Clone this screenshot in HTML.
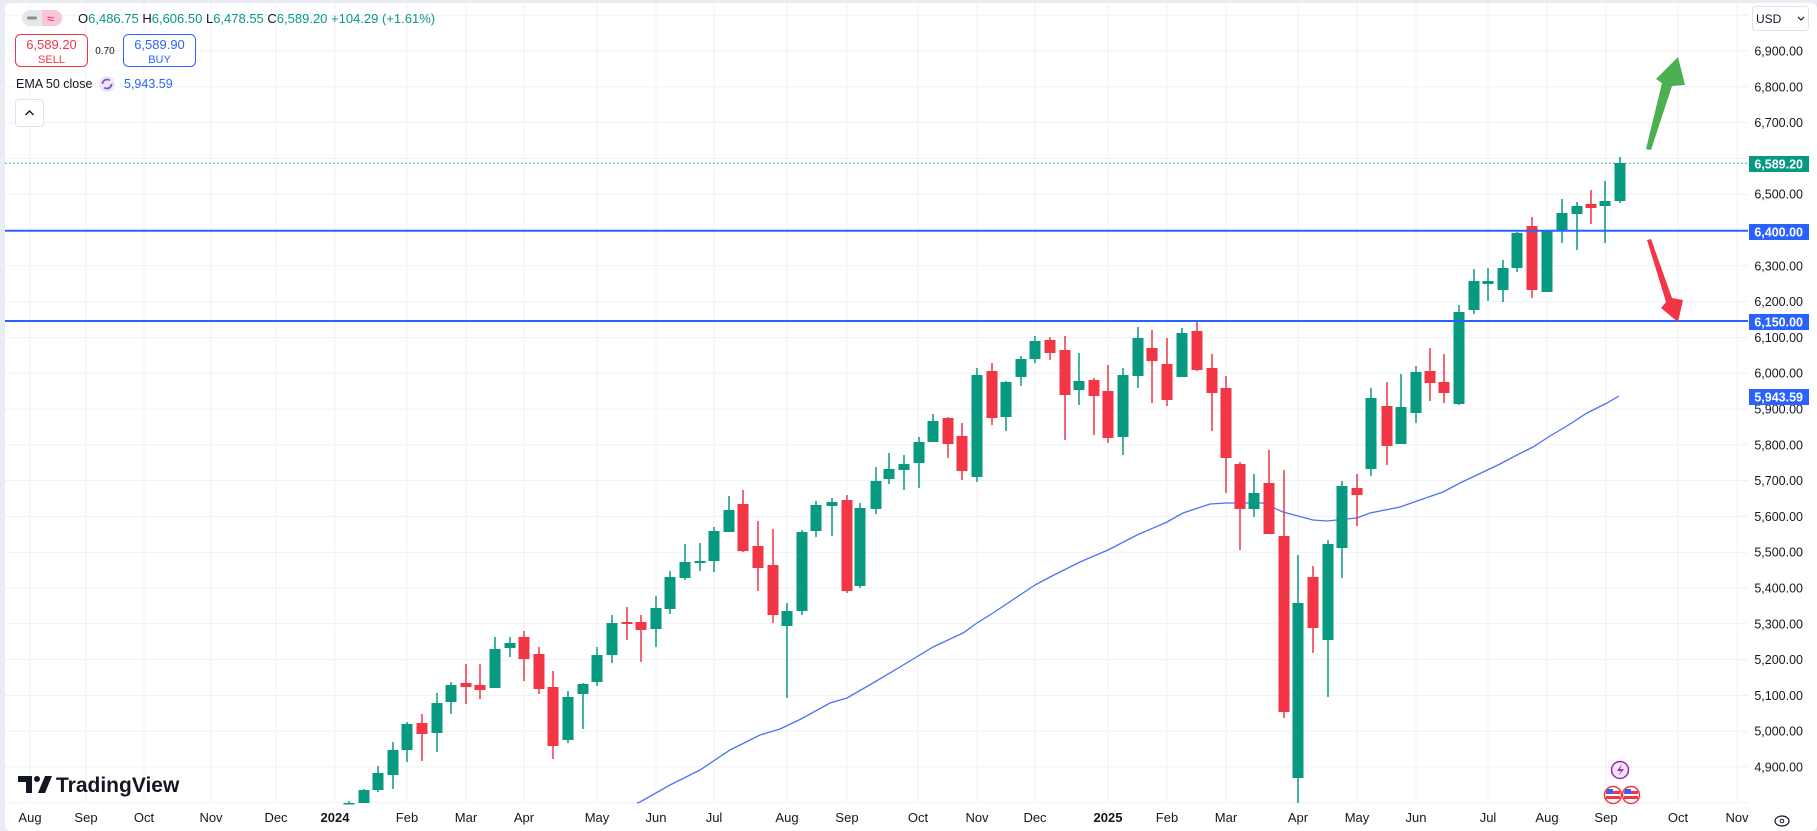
<!DOCTYPE html>
<html><head><meta charset="utf-8"><style>
html,body{margin:0;padding:0;background:#fff;}
body{width:1817px;height:831px;overflow:hidden;font-family:"Liberation Sans",sans-serif;}
svg{display:block;}
</style></head><body>
<svg id="c" width="1817" height="831" viewBox="0 0 1817 831" xmlns="http://www.w3.org/2000/svg" font-family="Liberation Sans, sans-serif">
<rect x="0" y="0" width="1817" height="831" fill="#e9ecf2"/>
<rect x="5" y="3" width="1812" height="828" rx="6" fill="#fff"/>
<g id="grid" stroke="#f0f1f4" stroke-width="1"></g>
<line x1="5" y1="163.3" x2="1748" y2="163.3" stroke="#089981" stroke-width="1" stroke-dasharray="1.5,2.5"/>
<polyline fill="none" stroke="#4d72f5" stroke-width="1.3" points="637,803 640,802 670,785 700,770 730,750 760,735 780,729 801,719 830,703 847,698 873,683 900,667 933,647 963,633 977,623 993,613 1020,595 1035,585 1050,577 1080,562 1108,550 1137,535 1167,522 1183,513 1210,504 1227,503 1263,503 1283,512 1313,520 1327,521 1357,518 1370,513 1400,507 1417,501 1443,492 1460,483 1500,464 1517,455 1533,447 1550,436 1567,426 1587,413 1607,403 1619,396"/>
<g id="candles"></g>
<line x1="5" y1="230.7" x2="1748" y2="230.7" stroke="#2962ff" stroke-width="2"/>
<line x1="5" y1="321" x2="1748" y2="321" stroke="#2962ff" stroke-width="2"/>
<polygon points="1646,149 1662,83 1656,79 1678,57 1685,85 1672,86 1651,150" fill="#4caf50"/>
<polygon points="1647,240 1651,239 1672,298 1683,300 1678,322 1661,308 1666,302" fill="#f23645"/>
<g font-size="12.5" fill="#131722" text-anchor="end">
<text x="1803" y="55.5">6,900.00</text>
<text x="1803" y="91.3">6,800.00</text>
<text x="1803" y="127.1">6,700.00</text>
<text x="1803" y="198.7">6,500.00</text>
<text x="1803" y="270.3">6,300.00</text>
<text x="1803" y="306.1">6,200.00</text>
<text x="1803" y="341.9">6,100.00</text>
<text x="1803" y="377.7">6,000.00</text>
<text x="1803" y="413.5">5,900.00</text>
<text x="1803" y="449.3">5,800.00</text>
<text x="1803" y="485.1">5,700.00</text>
<text x="1803" y="520.9">5,600.00</text>
<text x="1803" y="556.7">5,500.00</text>
<text x="1803" y="592.5">5,400.00</text>
<text x="1803" y="628.3">5,300.00</text>
<text x="1803" y="664.1">5,200.00</text>
<text x="1803" y="699.9">5,100.00</text>
<text x="1803" y="735.7">5,000.00</text>
<text x="1803" y="771.5">4,900.00</text>
</g>
<rect x="1749" y="156" width="60" height="16" fill="#089981"/>
<text x="1803" y="168.5" font-size="12.5" fill="#fff" text-anchor="end" font-weight="bold">6,589.20</text>
<rect x="1749" y="224" width="60" height="16" fill="#2962ff"/>
<text x="1803" y="236.5" font-size="12.5" fill="#fff" text-anchor="end" font-weight="bold">6,400.00</text>
<rect x="1749" y="314" width="60" height="16" fill="#2962ff"/>
<text x="1803" y="326.5" font-size="12.5" fill="#fff" text-anchor="end" font-weight="bold">6,150.00</text>
<rect x="1749" y="389" width="60" height="16" fill="#2962ff"/>
<text x="1803" y="401.5" font-size="12.5" fill="#fff" text-anchor="end" font-weight="bold">5,943.59</text>
<rect x="1752.5" y="6.5" width="56" height="24" rx="3" fill="#fff" stroke="#e0e3eb"/>
<text x="1756" y="23" font-size="12" fill="#131722">USD</text>
<path d="M1798 17 l3 3 l3 -3" fill="none" stroke="#131722" stroke-width="1.2"/>
<g font-size="13" fill="#131722" text-anchor="middle">
<text x="30" y="822">Aug</text><text x="86" y="822">Sep</text><text x="144" y="822">Oct</text>
<text x="211" y="822">Nov</text><text x="276" y="822">Dec</text><text x="335" y="822" font-weight="bold">2024</text>
<text x="407" y="822">Feb</text><text x="466" y="822">Mar</text><text x="524" y="822">Apr</text>
<text x="597" y="822">May</text><text x="656" y="822">Jun</text><text x="714" y="822">Jul</text>
<text x="787" y="822">Aug</text><text x="847" y="822">Sep</text><text x="918" y="822">Oct</text>
<text x="977" y="822">Nov</text><text x="1035" y="822">Dec</text><text x="1108" y="822" font-weight="bold">2025</text>
<text x="1167" y="822">Feb</text><text x="1226" y="822">Mar</text><text x="1298" y="822">Apr</text>
<text x="1357" y="822">May</text><text x="1416" y="822">Jun</text><text x="1488" y="822">Jul</text>
<text x="1547" y="822">Aug</text><text x="1606" y="822">Sep</text><text x="1678" y="822">Oct</text>
<text x="1737" y="822">Nov</text>
</g>
<ellipse cx="1782" cy="821" rx="7" ry="5" fill="none" stroke="#131722" stroke-width="1.2"/>
<circle cx="1782" cy="821" r="1.8" fill="none" stroke="#131722" stroke-width="1"/>
<circle cx="1620" cy="770" r="8.5" fill="#f3e5f5" stroke="#9c27b0" stroke-width="1.5"/>
<path d="M1622 764 l-5 7 h4 l-3 5 l6 -7 h-4 z" fill="#9c27b0"/>
<circle cx="1613" cy="795" r="8.5" fill="#fff" stroke="#f23645" stroke-width="1.5"/>
<circle cx="1631" cy="795" r="8.5" fill="#fff" stroke="#f23645" stroke-width="1.5"/>
<rect x="1606" y="791" width="14" height="3" fill="#f23645"/><rect x="1606" y="796" width="14" height="3" fill="#f23645"/><rect x="1607" y="789" width="6" height="5" fill="#2962ff"/>
<rect x="1624" y="791" width="14" height="3" fill="#f23645"/><rect x="1624" y="796" width="14" height="3" fill="#f23645"/><rect x="1625" y="789" width="6" height="5" fill="#2962ff"/>
<path d="M18 776 h14 v17 h-6 v-11 h-8 z" fill="#131722"/>
<circle cx="37" cy="779" r="3" fill="#131722"/>
<path d="M38 793 l7 -17 h7 l-7 17 z" fill="#131722"/>
<text x="56" y="792" font-size="21" font-weight="bold" fill="#131722">TradingView</text>
<rect x="22" y="10" width="40" height="16" rx="8" fill="#e6e7ea"/>
<path d="M42 10 h12 a8 8 0 0 1 0 16 h-12 z" fill="#f8c6d6"/>
<rect x="27" y="16.5" width="10" height="3" rx="1.5" fill="#8a8d96"/>
<text x="47" y="23" font-size="13" fill="#e91e63">≈</text>
<text x="78" y="23" font-size="13" fill="#131722">O<tspan fill="#089981">6,486.75</tspan> H<tspan fill="#089981">6,606.50</tspan> L<tspan fill="#089981">6,478.55</tspan> C<tspan fill="#089981">6,589.20</tspan> <tspan fill="#089981">+104.29 (+1.61%)</tspan></text>
<rect x="15.5" y="34.5" width="72" height="32" rx="5" fill="#fff" stroke="#f23645"/>
<text x="51.5" y="49" font-size="13" fill="#f23645" text-anchor="middle">6,589.20</text>
<text x="51.5" y="63" font-size="11" fill="#f23645" text-anchor="middle">SELL</text>
<text x="105" y="54" font-size="10" fill="#131722" text-anchor="middle">0.70</text>
<rect x="123.5" y="34.5" width="72" height="32" rx="5" fill="#fff" stroke="#2962ff"/>
<text x="159.5" y="49" font-size="13" fill="#2962ff" text-anchor="middle">6,589.90</text>
<text x="159.5" y="63" font-size="11" fill="#2962ff" text-anchor="middle">BUY</text>
<text x="16" y="88" font-size="12.5" fill="#131722">EMA 50 close</text>
<circle cx="107" cy="84" r="8" fill="#ede7f6"/>
<circle cx="107" cy="84" r="4.5" fill="none" stroke="#7e57c2" stroke-width="1.8" stroke-dasharray="10,4"/>
<text x="124" y="88" font-size="12.5" fill="#2962ff">5,943.59</text>
<rect x="15.5" y="99.5" width="28" height="27" rx="3" fill="#fff" stroke="#e0e3eb"/>
<path d="M25.5 115 l4 -4 l4 4" fill="none" stroke="#131722" stroke-width="1.4"/>
</svg>
<script>
var NS="http://www.w3.org/2000/svg";
var g=document.getElementById("grid");
function ln(x1,y1,x2,y2){var l=document.createElementNS(NS,"line");l.setAttribute("x1",x1);l.setAttribute("y1",y1);l.setAttribute("x2",x2);l.setAttribute("y2",y2);g.appendChild(l);}
for(var k=-1;k<=21;k++){var y=51+k*35.8;if(y>5&&y<805)ln(5,y,1748,y);}
[30,86,144,211,276,335,407,466,524,597,656,714,787,847,918,977,1035,1108,1167,1226,1298,1357,1416,1488,1547,1606,1678,1737].forEach(function(x){ln(x,3,x,803);});
var d=[[349,801,803,803,803,'g'],[364,789,790,805,805,'g'],[378,766,773,790,792,'g'],[393,742,750,775,789,'g'],[407,722,724,750,762,'g'],[422,714,723,734,761,'r'],[437,693,703,733,752,'g'],[451,682,685,702,714,'g'],[466,664,683,687,704,'r'],[480,664,685,690,699,'r'],[495,637,649,688,688,'g'],[510,637,643,648,657,'g'],[524,631,637,659,681,'r'],[539,647,654,689,694,'r'],[553,671,687,746,759,'r'],[568,691,697,740,743,'g'],[583,683,684,694,729,'g'],[597,647,655,682,686,'g'],[612,615,623,655,663,'g'],[627,607,622,624,640,'r'],[641,615,622,630,662,'r'],[656,596,608,629,647,'g'],[670,571,577,609,614,'g'],[685,544,562,578,580,'g'],[700,543,561,563,571,'g'],[714,527,531,561,572,'g'],[729,496,510,532,532,'g'],[743,490,504,551,552,'r'],[758,521,546,568,591,'r'],[773,529,565,615,623,'r'],[787,603,611,626,698,'g'],[802,530,532,611,615,'g'],[816,501,505,531,537,'g'],[832,498,502,506,536,'g'],[847,495,500,591,593,'r'],[860,503,508,586,588,'g'],[876,467,481,509,514,'g'],[889,453,469,479,484,'g'],[904,455,464,470,490,'g'],[919,437,442,463,488,'g'],[933,414,421,442,442,'g'],[948,417,418,444,458,'r'],[962,423,436,471,480,'r'],[977,368,375,477,482,'g'],[992,363,371,418,425,'r'],[1006,381,382,417,431,'g'],[1021,356,359,377,386,'g'],[1035,336,341,359,363,'g'],[1050,337,340,353,360,'r'],[1065,336,350,395,440,'r'],[1079,353,381,390,405,'g'],[1094,378,380,396,435,'r'],[1108,365,391,438,443,'r'],[1123,368,375,437,455,'g'],[1138,327,338,376,388,'g'],[1152,330,348,361,403,'r'],[1167,338,364,400,406,'r'],[1182,328,333,377,377,'g'],[1197,320,331,370,371,'r'],[1212,354,368,393,431,'r'],[1226,376,388,458,493,'r'],[1240,462,464,509,550,'r'],[1254,474,493,509,517,'g'],[1269,450,483,534,534,'r'],[1284,470,536,712,718,'r'],[1298,555,603,778,803,'g'],[1313,566,577,628,653,'r'],[1328,540,544,640,697,'g'],[1342,481,486,548,578,'g'],[1357,474,488,495,526,'r'],[1371,388,398,469,476,'g'],[1387,382,406,446,465,'r'],[1401,374,407,444,444,'g'],[1416,366,372,413,423,'g'],[1430,348,371,383,401,'r'],[1444,354,382,393,403,'r'],[1459,305,312,404,405,'g'],[1474,269,281,310,314,'g'],[1488,268,281,284,301,'g'],[1503,260,268,290,302,'g'],[1517,232,233,268,272,'g'],[1532,217,226,290,298,'r'],[1547,230,230,292,292,'g'],[1562,199,213,231,243,'g'],[1577,202,206,214,250,'g'],[1591,190,204,208,224,'r'],[1605,181,201,206,243,'g'],[1620,157,163,201,203,'g']];
var c=document.getElementById("candles");
d.forEach(function(a){var col=a[5]=='g'?'#089981':'#f23645';
var w=document.createElementNS(NS,"rect");w.setAttribute("x",a[0]-0.75);w.setAttribute("y",a[1]);w.setAttribute("width",1.5);w.setAttribute("height",Math.max(0,Math.min(a[4],803)-a[1]));w.setAttribute("fill",col);c.appendChild(w);
var b=document.createElementNS(NS,"rect");b.setAttribute("x",a[0]-5.5);b.setAttribute("y",a[2]);b.setAttribute("width",11);b.setAttribute("height",Math.max(1.5,Math.min(a[3],803)-a[2]));b.setAttribute("fill",col);c.appendChild(b);});
</script>
</body></html>
